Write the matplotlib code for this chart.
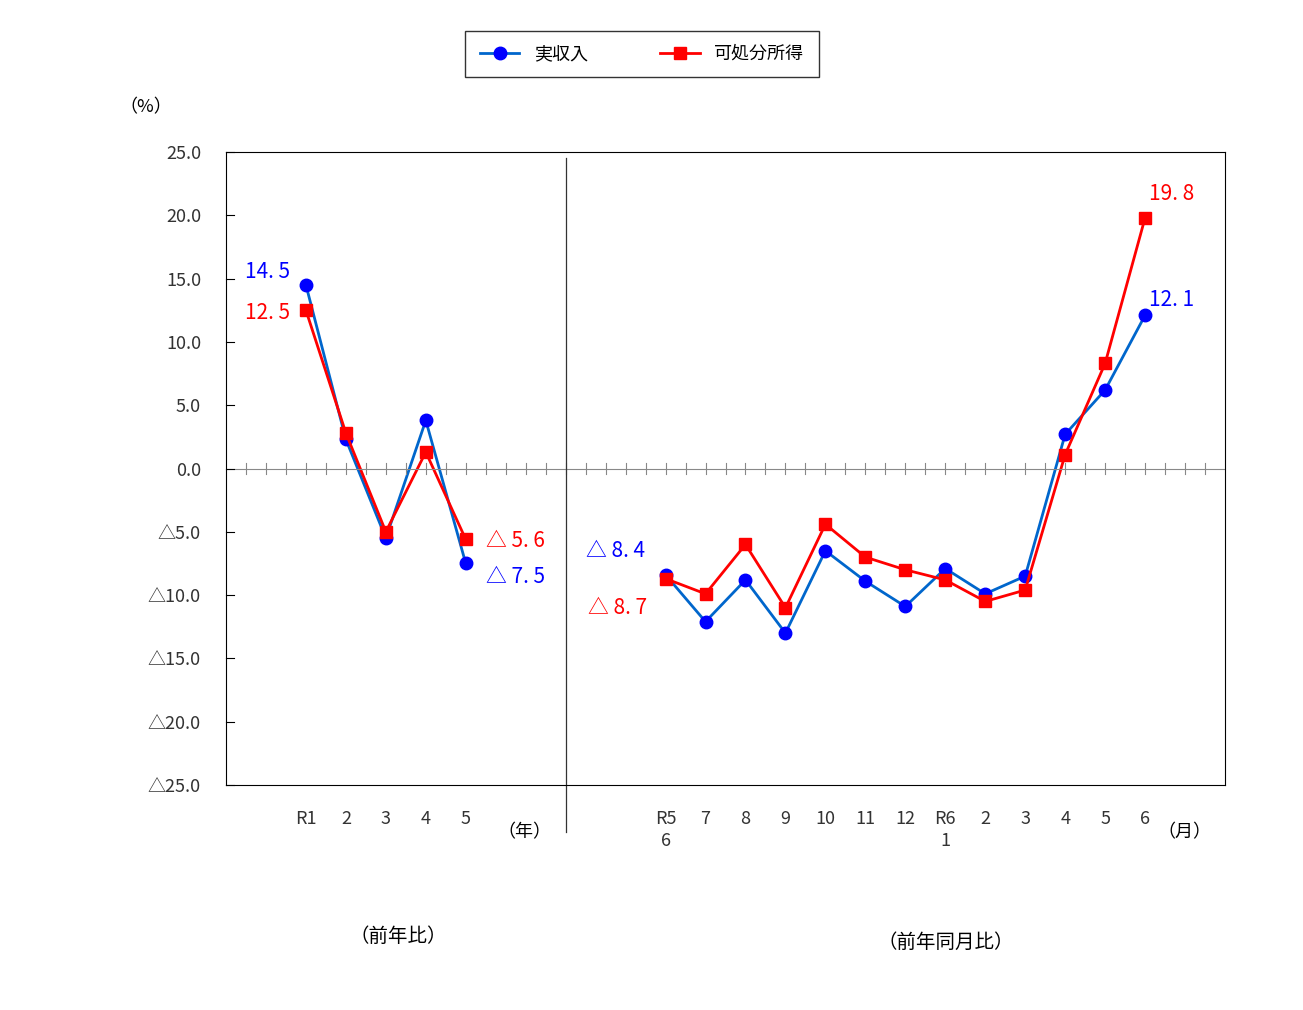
import matplotlib
matplotlib.use("Agg")
import matplotlib.pyplot as plt
from matplotlib.lines import Line2D

plt.rcParams['font.family'] = 'Noto Sans CJK JP'

# 前年比 (年)
year_labels = ['R1', '2', '3', '4', '5']
year_income = [14.5, 2.3, -5.5, 3.8, -7.5]
year_disp = [12.5, 2.8, -5.0, 1.3, -5.6]

# 前年同月比 (月)
month_labels = ['R5\n6', '7', '8', '9', '10', '11', '12', 'R6\n1', '2', '3', '4', '5', '6']
month_income = [-8.4, -12.1, -8.8, -13.0, -6.5, -8.9, -10.9, -7.9, -9.9, -8.5, 2.7, 6.2, 12.1]
month_disp = [-8.7, -9.9, -6.0, -11.0, -4.4, -7.0, -8.0, -8.8, -10.5, -9.6, 1.1, 8.3, 19.8]

yticks = [25, 20, 15, 10, 5, 0, -5, -10, -15, -20, -25]

W, H = 1303, 1010
fig = plt.figure(figsize=(W / 100, H / 100), dpi=100)
ax = fig.add_axes([226 / W, 1 - 785 / H, 999 / W, 633 / H])

xy = [2 + i for i in range(len(year_labels))]
xm = [11 + i for i in range(len(month_labels))]

blue, red = '#0066cc', '#ff0000'
kw_b = dict(color=blue, lw=2, marker='o', ms=9, mfc='#0000ff', mec='#0000ff')
kw_r = dict(color=red, lw=2, marker='s', ms=9, mfc=red, mec=red)
ax.plot(xy, year_income, **kw_b)
ax.plot(xy, year_disp, **kw_r)
ax.plot(xm, month_income, **kw_b)
ax.plot(xm, month_disp, **kw_r)

ax.set_xlim(0, 25)
ax.set_ylim(-25, 25)
ax.set_yticks(yticks)
ax.set_yticklabels([f'{v:.1f}' if v >= 0 else f'△{-v:.1f}' for v in yticks],
                   fontsize=13, color='#333333')
ax.tick_params(axis='y', length=0, pad=18)
ax.set_xticks(xy + xm)
ax.set_xticklabels(year_labels + month_labels, fontsize=13, color='#333333', va='top',
                   linespacing=1.3)
ax.tick_params(axis='x', length=0, pad=18)
for s in ax.spines.values():
    s.set_linewidth(0.8)

# zero line with small ticks
ax.axhline(0, color='#888888', lw=0.8)
for i in range(1, 50):
    ax.plot([i * 0.5, i * 0.5], [-0.4, 0.4], color='#888888', lw=0.8)
for v in yticks:
    ax.plot([0, 0.2], [v, v], color='black', lw=0.8, clip_on=False)

ax.plot([8.5, 8.5], [24.5, -28.7], color='#333333', lw=0.9, clip_on=False)

ax.text(-2.0, 28.5, '（%）', fontsize=13, ha='center', va='center')
ax.text(6.8, -28.7, '（年）', fontsize=13, ha='left', va='center')
ax.text(23.3, -28.7, '（月）', fontsize=13, ha='left', va='center')
ax.text(4.3, -37.0, '（前年比）', fontsize=14, ha='center', va='center')
ax.text(18.0, -37.4, '（前年同月比）', fontsize=14, ha='center', va='center')

ax.text(1.6, 15.5, '14. 5', color='#0000ff', fontsize=15, ha='right', va='center')
ax.text(1.6, 12.3, '12. 5', color=red, fontsize=15, ha='right', va='center')
ax.text(6.5, -5.7, '△ 5. 6', color=red, fontsize=15, ha='left', va='center')
ax.text(6.5, -8.6, '△ 7. 5', color='#0000ff', fontsize=15, ha='left', va='center')
ax.text(9.0, -6.5, '△ 8. 4', color='#0000ff', fontsize=15, ha='left', va='center')
ax.text(9.05, -11.0, '△ 8. 7', color=red, fontsize=15, ha='left', va='center')
ax.text(23.1, 21.7, '19. 8', color=red, fontsize=15, ha='left', va='center')
ax.text(23.1, 13.3, '12. 1', color='#0000ff', fontsize=15, ha='left', va='center')

handles = [Line2D([], [], **kw_b), Line2D([], [], **kw_r)]
fig.legend(handles, ['実収入', '可処分所得'], loc='center', bbox_to_anchor=(642 / W, 1 - 54 / H),
           ncol=2, fontsize=13, frameon=True, fancybox=False, edgecolor='black',
           columnspacing=4, handlelength=2.2, borderpad=0.8)

fig.savefig('out.png', dpi=100, facecolor='white')
